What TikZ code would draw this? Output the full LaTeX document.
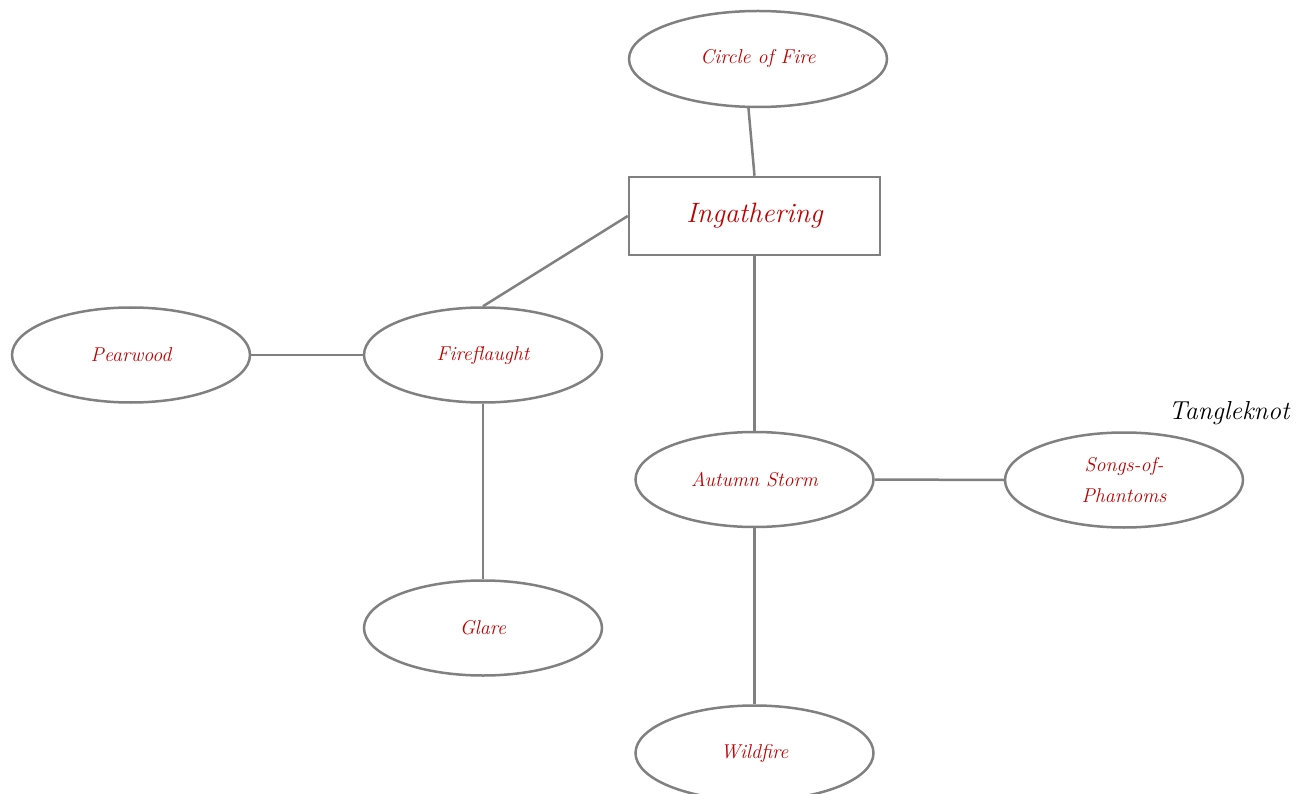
\documentclass[tikz,border=0pt]{standalone}
\usetikzlibrary{shapes.geometric}
\definecolor{lbl}{RGB}{192,0,0}
\definecolor{edge}{RGB}{128,128,128}
\begin{document}
\begin{tikzpicture}[x=1pt,y=-1pt,
  oval/.style={ellipse,draw=edge,line width=2.5pt,minimum width=238pt,minimum height=95pt,inner sep=0pt,
    font=\fontsize{20}{21}\selectfont\itshape,text=lbl,align=center},
  topbox/.style={rectangle,draw=edge,line width=2.5pt,minimum width=251pt,minimum height=78pt,inner sep=0pt,
    font=\fontsize{28}{32}\selectfont\itshape,text=lbl},
  link/.style={draw=edge,line width=2.5pt}]
\useasboundingbox (0,0) rectangle (1304,794);
\node[oval,minimum width=258pt,minimum height=96pt] (cof) at (758,59) {Circle of Fire};
\node[topbox] (ing) at (754.5,216) {Ingathering};
\node[oval] (pear) at (131,355) {Pearwood};
\node[oval] (ff) at (483,355) {Fireflaught};
\node[oval] (glare) at (483,628) {Glare};
\node[oval] (as) at (754.5,479.5) {Autumn Storm};
\node[oval,font=\fontsize{20}{31}\selectfont\itshape] (songs) at (1124,480) {Songs-of-\\Phantoms};
\node[oval] (wild) at (754.5,753) {Wildfire};
\node[font=\fontsize{26}{30}\selectfont\itshape,text=black,inner sep=0pt] (tk) at (1229,413) {Tangleknot};
\draw[link] (cof.259) -- (ing.north);
\draw[link] (ing.west) -- (ff.north);
\draw[link] (pear.east) -- (ff.west);
\draw[link] (ff.south) -- (glare.north);
\draw[link] (ing.south) -- (as.north);
\draw[link] (as.east) -- (songs.west);
\draw[link] (as.south) -- (wild.north);
\end{tikzpicture}
\end{document}
